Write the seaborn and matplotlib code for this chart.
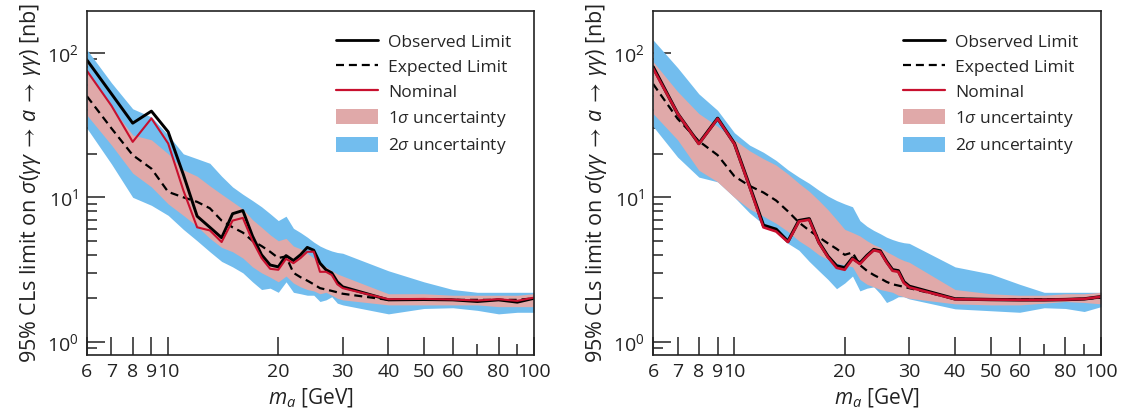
import numpy as np
import pandas as pd
import matplotlib
matplotlib.use("Agg")
import matplotlib.pyplot as plt
from matplotlib.lines import Line2D
from matplotlib.patches import Patch
from matplotlib.ticker import FixedLocator, FixedFormatter, LogLocator, NullFormatter
import seaborn as sns

# Axion mass points [GeV]
mass = [6, 7, 8, 9, 10, 11, 12, 13, 14, 15, 16, 17, 18, 19, 20, 21, 22, 23, 24, 25,
        26, 27, 28, 29, 30, 40, 50, 60, 70, 80, 90, 100]

# Left panel: limits on sigma(gg -> a -> gg) [nb]
left_observed = [89, 52, 32.6, 39.5, 28.4, 14.4, 7.4, 6.2, 5.25, 7.7, 8.1, 5.4, 4.0, 3.4, 3.3,
                 3.95, 3.65, 4.0, 4.5, 4.3, 3.5, 3.15, 3.0, 2.6, 2.4, 1.95, 1.96, 1.95, 1.90,
                 1.95, 1.88, 2.0]
left_nominal = [75, 43, 24.2, 35.2, 23.6, 11.2, 6.2, 5.9, 4.9, 6.9, 7.2, 5.0, 3.8, 3.2, 3.15,
                3.75, 3.5, 3.8, 4.2, 4.2, 3.05, 3.05, 2.9, 2.5, 2.35, 1.97, 1.98, 1.96, 1.93,
                1.97, 1.92, 2.02]
left_expected = [50, 30, 19.6, 15.8, 10.9, 10.0, 9.3, 8.4, 6.9, 6.2, 5.7, 5.0, 4.6, 4.2, 3.8,
                 3.9, 3.0, 2.8, 2.65, 2.5, 2.35, 2.3, 2.25, 2.2, 2.15, 1.95, 1.95, 1.95, 1.95,
                 1.95, 1.95, 2.0]
left_1s_up = [75, 42, 27, 25, 20, 15.5, 14, 12, 10.5, 9.3, 8.3, 7.0, 6.2, 5.5, 5.0, 5.2, 4.6,
              4.4, 4.1, 3.8, 3.5, 3.3, 3.1, 2.95, 2.85, 2.15, 2.15, 2.1, 2.1, 2.1, 2.1, 2.15]
left_1s_down = [37, 23, 14.7, 11.8, 9.0, 7.5, 6.3, 5.2, 4.5, 4.2, 3.8, 3.3, 3.0, 2.8, 2.6, 2.85,
                2.55, 2.4, 2.3, 2.25, 2.15, 2.2, 2.1, 2.0, 1.95, 1.8, 1.8, 1.8, 1.8, 1.75, 1.75,
                1.75]
left_2s_up = [105, 62, 41, 36, 27, 20, 18.5, 17.2, 14, 11.8, 10.5, 9.5, 8.6, 7.7, 6.9, 7.4, 6.1,
              5.7, 5.3, 4.9, 4.6, 4.4, 4.25, 4.15, 4.1, 3.1, 2.6, 2.3, 2.2, 2.2, 2.2, 2.2]
left_2s_down = [30, 17, 10, 8.8, 7.5, 6.0, 5.0, 4.2, 3.6, 3.3, 3.0, 2.6, 2.3, 2.35, 2.2, 2.6,
                2.2, 2.15, 2.1, 2.1, 1.9, 1.95, 2.05, 1.85, 1.8, 1.56, 1.7, 1.72, 1.65, 1.56,
                1.6, 1.6]

# Right panel
right_observed = [80, 38, 23.6, 35.2, 23.6, 12.0, 6.4, 6.0, 4.95, 6.9, 7.1, 4.9, 3.9, 3.35,
                  3.25, 3.8, 3.5, 3.95, 4.35, 4.25, 3.6, 3.15, 3.1, 2.6, 2.42, 1.98, 1.96, 1.95,
                  1.95, 1.96, 1.98, 2.05]
right_nominal = [78, 38, 23.4, 35.0, 23.4, 11.8, 6.2, 5.8, 4.9, 6.8, 7.0, 4.85, 3.85, 3.25,
                 3.15, 3.75, 3.45, 3.9, 4.3, 4.2, 3.55, 3.1, 3.05, 2.55, 2.38, 1.97, 1.96, 1.95,
                 1.95, 1.96, 1.98, 2.05]
right_expected = [61, 35, 24.5, 19.6, 14, 12, 10.8, 9.5, 8.0, 6.7, 5.9, 5.3, 4.8, 4.4, 4.0,
                  4.15, 3.4, 3.1, 2.9, 2.75, 2.6, 2.5, 2.45, 2.4, 2.35, 1.98, 1.97, 1.97, 1.97,
                  1.97, 1.98, 2.02]
right_1s_up = [87, 54, 38, 31, 25, 21, 18.5, 16.7, 14.5, 12.5, 11, 9.5, 8.2, 7.0, 6.0, 5.7,
               5.4, 5.0, 4.7, 4.5, 4.2, 4.0, 3.8, 3.65, 3.55, 2.3, 2.15, 2.1, 2.1, 2.15, 2.15,
               2.2]
right_1s_down = [38, 25, 15.4, 12.8, 10.0, 8.3, 7.4, 6.6, 5.8, 5.0, 4.5, 4.0, 3.7, 3.5, 3.4,
                 3.3, 2.7, 2.5, 2.4, 2.3, 2.25, 2.2, 2.1, 2.05, 2.0, 1.83, 1.8, 1.8, 1.85, 1.9,
                 1.87, 1.83]
right_2s_up = [123, 79, 52, 40, 28, 23, 20.5, 18, 15.5, 13.8, 12.5, 11.2, 10.2, 9.5, 9.0, 8.6,
               6.9, 6.3, 5.9, 5.6, 5.3, 5.1, 4.95, 4.85, 4.8, 3.3, 2.95, 2.5, 2.2, 2.2, 2.2, 2.2]
right_2s_down = [31, 19, 13.8, 12.8, 10, 7.8, 6.5, 5.8, 4.8, 4.3, 3.6, 3.1, 2.7, 2.33, 2.55,
                 2.85, 2.25, 2.35, 2.4, 2.15, 1.87, 1.95, 2.05, 2.05, 1.98, 1.69, 1.64, 1.6,
                 1.72, 1.7, 1.62, 1.75]

# Axis ticks
xtick_major = [6, 7, 8, 9, 10, 20, 30, 40, 50, 60, 80, 100]
xtick_minor = [70, 90]
xtick_labels = ["6", "7", "8", "9", "10", "20", "30", "40", "50", "60", "80", "100"]

COL_2S = "#72bdee"
COL_1S = "#e0a9a9"
COL_NOM = "#c8102e"

sns.set_theme(style="ticks")
FONT = "Open Sans"
plt.rcParams["font.family"] = [FONT, "DejaVu Sans"]
plt.rcParams["mathtext.fontset"] = "custom"
plt.rcParams["mathtext.rm"] = FONT
plt.rcParams["mathtext.it"] = FONT + ":italic"
plt.rcParams["mathtext.bf"] = FONT + ":bold"
plt.rcParams["mathtext.default"] = "regular"
plt.rcParams["axes.edgecolor"] = "#222222"
plt.rcParams["axes.linewidth"] = 1.2

FS_TICK = 14
FS_XLABEL = 15
FS_YLABEL = 15.5
FS_LEG = 12.5
TXT = "#222222"

fig = plt.figure(figsize=(11.24, 4.15), dpi=100)
ax_l = fig.add_axes([0.0774, 0.1446, 0.3977, 0.829])
ax_r = fig.add_axes([0.581, 0.1446, 0.3985, 0.829])


def draw_panel(ax, obs, nom, exp, s1u, s1d, s2u, s2d, obs_lw, nom_lw):
    df = pd.DataFrame({"mass": mass, "observed": obs, "nominal": nom, "expected": exp,
                       "s1u": s1u, "s1d": s1d, "s2u": s2u, "s2d": s2d})
    ax.fill_between(df["mass"], df["s2d"], df["s2u"], color=COL_2S, lw=0, zorder=1)
    ax.fill_between(df["mass"], df["s1d"], df["s1u"], color=COL_1S, lw=0, zorder=2)
    sns.lineplot(data=df, x="mass", y="expected", ax=ax, color="black", lw=1.6,
                 zorder=3).lines[-1].set_dashes((3.6, 2.2))
    sns.lineplot(data=df, x="mass", y="observed", ax=ax, color="black", lw=obs_lw, zorder=4)
    sns.lineplot(data=df, x="mass", y="nominal", ax=ax, color=COL_NOM, lw=nom_lw, zorder=5)

    ax.set_xscale("log")
    ax.set_yscale("log")
    ax.set_xlim(6, 100)
    ax.set_ylim(0.81, 195)

    ax.xaxis.set_major_locator(FixedLocator(xtick_major))
    ax.xaxis.set_major_formatter(FixedFormatter(xtick_labels))
    ax.xaxis.set_minor_locator(FixedLocator(xtick_minor))
    ax.xaxis.set_minor_formatter(NullFormatter())
    ax.yaxis.set_major_locator(LogLocator(base=10, numticks=10))
    ax.yaxis.set_minor_locator(LogLocator(base=10, subs=np.arange(2, 10), numticks=10))
    ax.yaxis.set_minor_formatter(NullFormatter())

    ax.tick_params(which="both", direction="in", top=False, right=False,
                   labelsize=FS_TICK, colors=TXT, width=1.1)
    ax.tick_params(which="major", length=13, pad=6)
    ax.tick_params(which="minor", length=7)
    ax.tick_params(axis="x", which="minor", length=8)
    for sp in ax.spines.values():
        sp.set_visible(True)
        sp.set_zorder(10)

    ax.set_xlabel(r"$\mathit{m}_{\mathit{a}}$ [GeV]", fontsize=FS_XLABEL, color=TXT,
                  labelpad=4)
    ax.set_ylabel(r"95% CLs limit on $\mathit{\sigma}(\mathit{\gamma\gamma}\,\rightarrow\,"
                  r"\mathit{a}\,\rightarrow\,\mathit{\gamma\gamma})$ [nb]",
                  fontsize=FS_YLABEL, color=TXT, labelpad=3)

    handles = [
        Line2D([], [], color="black", lw=2.0),
        Line2D([], [], color="black", lw=1.6, dashes=(3.6, 2.2)),
        Line2D([], [], color=COL_NOM, lw=1.6),
        Patch(facecolor=COL_1S, edgecolor="none"),
        Patch(facecolor=COL_2S, edgecolor="none"),
    ]
    labels = ["Observed Limit", "Expected Limit", "Nominal",
              r"1$\mathit{\sigma}$ uncertainty", r"2$\mathit{\sigma}$ uncertainty"]
    ax.legend(handles, labels, loc="upper right", frameon=False, fontsize=FS_LEG,
              handlelength=2.4, handleheight=0.9, labelspacing=0.45, handletextpad=0.6,
              borderaxespad=0.9)


draw_panel(ax_l, left_observed, left_nominal, left_expected,
           left_1s_up, left_1s_down, left_2s_up, left_2s_down, 2.1, 1.5)
draw_panel(ax_r, right_observed, right_nominal, right_expected,
           right_1s_up, right_1s_down, right_2s_up, right_2s_down, 2.4, 1.9)

fig.savefig("out.png", dpi=100)
